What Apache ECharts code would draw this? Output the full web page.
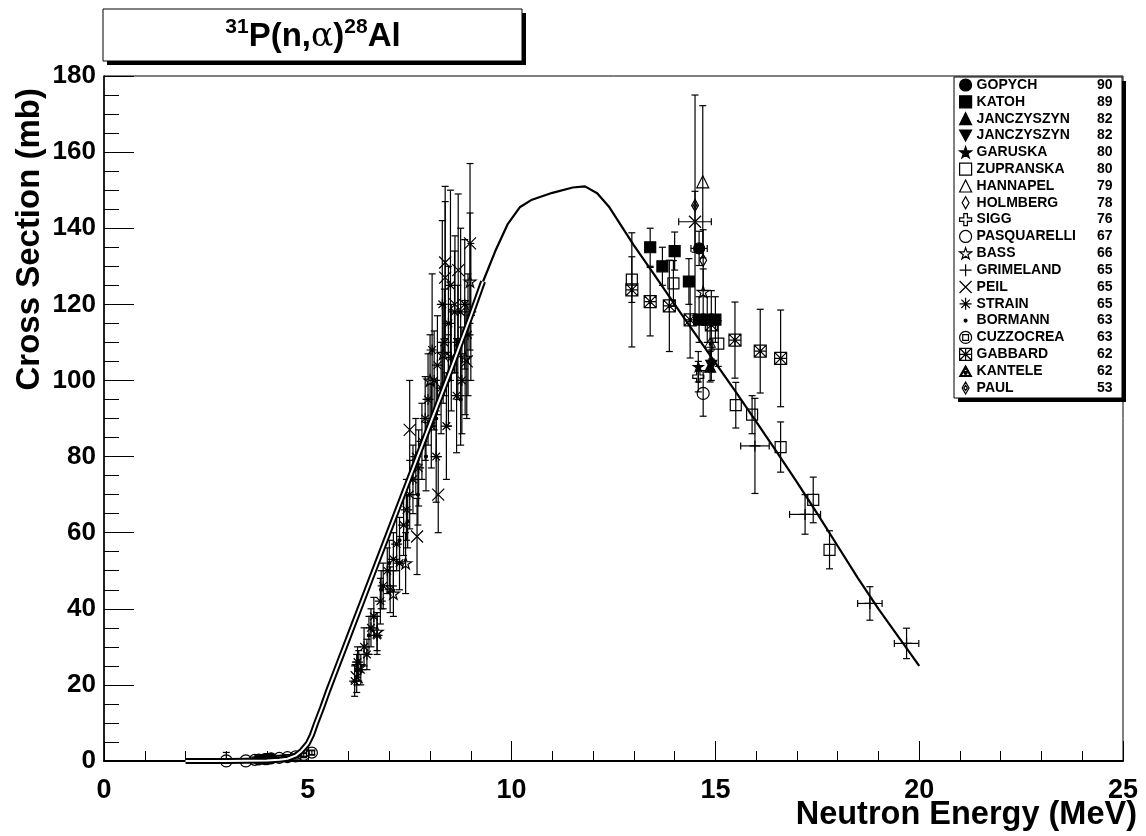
<!DOCTYPE html>
<html><head><meta charset="utf-8">
<script src="https://cdn.jsdelivr.net/npm/echarts@6/dist/echarts.min.js"></script>
<style>html,body{margin:0;padding:0;background:#fff}#c{width:1146px;height:836px}</style>
</head><body><div id="c"></div>
<script>
// ---- data: each point = [energy (MeV), cross section (mb), dSigma, dE] ----
const GOPYCH = [[3.8,0.4,0.3,0],[3.95,0.5,0.3,0],[4.1,0.7,0.3,0],[14.6,134.7,4.5,0.2]];
const KATOH = [[13.4,135,5,0],[13.7,130,5,0],[14.0,134,5,0],[14.35,126,6,0],[14.6,116,6,0],[14.8,116,6,0],[15.0,116,6,0]];
const JANCZYSZYN_UP = [[14.87,103.6,4,0]];
const JANCZYSZYN_DN = [[14.9,104,4,0]];
const GARUSKA = [[14.58,103.6,4,0]];
const ZUPRANSKA = [[12.95,126.5,6,0],[13.97,125.5,6,0],[15.07,109.7,6,0],[15.5,93.5,6,0],[15.9,91,5,0],[16.6,82.5,6.6,0],[17.4,68.6,6,0],[17.8,55.5,5,0]];
const HANNAPEL = [[14.69,152.2,20,0]];
const HOLMBERG = [[14.7,131.6,8,0]];
const SIGG = [[14.58,101,4,0]];
const PASQUARELLI = [[3.0,0.05,2.2,0],[3.48,0.05,0.5,0],[14.7,96.6,6,0]];
const BASS = [[6.25,25,4,0],[6.7,34,5,0],[7.1,44,6,0],[7.4,52,8,0],[8.0,100,12,0],[8.32,107,13,0],[8.86,106,15,0],[8.98,126,18,0],[14.7,123.3,6,0]];
const GRIMELAND = [[15.97,82.8,12.5,0.35],[17.2,64.8,5.2,0.38],[18.79,41.4,4.4,0.3],[19.69,30.9,4,0.3]];
const PEIL = [[6.2,22,4,0],[7.5,87,13,0],[7.68,59,10,0],[8.2,70,10,0],[8.37,131,20,0],[8.37,127,20,0],[8.61,120,18,0],[8.69,129,20,0],[8.9,105,15,0],[8.98,136,21,0],[14.5,141.7,8,0.4]];
const STRAIN = [[6.15,21,4,0],[6.22,26,4,0],[6.3,24,4,0],[6.38,30,5,0],[6.45,28,4,0],[6.55,35,5,0],[6.62,38,5,0],[6.7,33,5,0],[6.78,42,6,0],[6.85,46,6,0],[6.95,50,6,0],[7.02,45,6,0],[7.1,53,7,0],[7.18,57,7,0],[7.25,52,7,0],[7.35,62,8,0],[7.42,66,8,0],[7.5,70,9,0],[7.58,74,9,0],[7.65,80,10,0],[7.72,77,10,0],[7.8,84,10,0],[7.88,90,11,0],[7.95,95,12,0],[8.03,88,11,0],[8.05,108,20,0],[8.1,100,13,0],[8.15,80,12,0],[8.18,104,13,0],[8.27,98,12,0],[8.3,120,22,0],[8.35,110,14,0],[8.4,88,14,0],[8.45,115,15,0],[8.5,125,25,0],[8.52,106,14,0],[8.6,118,16,0],[8.65,96,15,0],[8.68,110,15,0],[8.75,118,22,0],[8.78,100,14,0],[8.85,120,17,0],[8.93,112,16,0],[9.0,118,18,0]];
const BORMANN = [[4.4,1.2,0.3,0],[4.6,1.4,0.3,0],[4.8,1.6,0.3,0],[6.2,24,4,0],[6.5,33,5,0],[6.8,45,5,0],[7.0,52,6,0],[7.25,58,6,0],[7.45,63,7,0],[7.7,70,8,0],[7.9,80,9,0],[8.15,90,10,0],[8.45,100,12,0],[8.75,95,12,0]];
const CUZZOCREA = [[3.7,0.3,0.3,0],[4.0,0.5,0.3,0],[4.3,0.8,0.3,0],[4.5,1.0,0.3,0],[4.7,1.2,0.3,0],[4.9,1.6,0.4,0],[5.1,2.2,0.5,0]];
const GABBARD = [[12.95,123.8,15,0],[13.4,120.7,9,0],[13.87,119.6,12,0],[14.38,115.9,10,0],[14.9,114.6,9,0],[15.48,110.6,10,0],[16.1,107.7,11,0],[16.6,105.8,12.7,0]];
const KANTELE = [[14.87,110,5,0]];
const PAUL = [[14.5,146,29,0]];

// evaluation curve [E, sigma]
const EVAL_CURVE = [[0,0],[2,0],[3,0],[4,0.1],[4.3,0.3],[4.5,0.6],[4.7,1.4],[4.85,2.7],[5.0,4.6],[5.1,6.8],[5.2,9.8],[5.35,14],[5.5,18.5],[5.75,25.5],[6.0,32.5],[6.5,46.5],[7.0,60.5],[7.5,74.5],[8.0,88.5],[8.5,102.5],[9.0,117],[9.3,126],[9.6,134],[9.9,141],[10.2,145.5],[10.5,147.5],[11.0,149.3],[11.5,150.7],[11.8,151],[12.1,149.2],[12.4,145.5],[12.7,140.5],[13.0,135.5],[13.5,127.8],[14.0,120],[14.5,112.3],[15.0,104.6],[15.5,97],[16.0,89.2],[16.5,81.3],[17.0,73.3],[17.5,65],[18.0,56.5],[18.5,48],[19.0,40],[19.5,32.5],[20.0,25]];

// legend entries
const LEGEND_KEYS = ['GOPYCH','KATOH','JANCZYSZYN_UP','JANCZYSZYN_DN','GARUSKA','ZUPRANSKA','HANNAPEL','HOLMBERG','SIGG','PASQUARELLI','BASS','GRIMELAND','PEIL','STRAIN','BORMANN','CUZZOCREA','GABBARD','KANTELE','PAUL'];
const LEGEND_LABELS = ['GOPYCH','KATOH','JANCZYSZYN','JANCZYSZYN','GARUSKA','ZUPRANSKA','HANNAPEL','HOLMBERG','SIGG','PASQUARELLI','BASS','GRIMELAND','PEIL','STRAIN','BORMANN','CUZZOCREA','GABBARD','KANTELE','PAUL'];
const LEGEND_YEARS = ['90','89','82','82','80','80','79','78','76','67','66','65','65','65','63','63','62','62','53'];

const DATA = {GOPYCH,KATOH,JANCZYSZYN_UP,JANCZYSZYN_DN,GARUSKA,ZUPRANSKA,HANNAPEL,HOLMBERG,SIGG,PASQUARELLI,BASS,GRIMELAND,PEIL,STRAIN,BORMANN,CUZZOCREA,GABBARD,KANTELE,PAUL};

const FONT = '"Liberation Sans", Arial, Helvetica, sans-serif';
const STAR = 'M50,0L61.2,34.5L97.6,34.5L68.2,55.9L79.4,90.5L50,69.1L20.6,90.5L31.8,55.9L2.4,34.5L38.8,34.5Z';
const T = 'transparent';
const MARK = {
  GOPYCH: {symbol:'circle', size:11, fill:'#000'},
  KATOH: {symbol:'rect', size:11, fill:'#000'},
  JANCZYSZYN_UP: {symbol:'triangle', size:11, fill:'#000'},
  JANCZYSZYN_DN: {symbol:'path://M0,0H10L5,9Z', size:11, fill:'#000'},
  GARUSKA: {symbol:'path://'+STAR, size:10, fill:'#000'},
  ZUPRANSKA: {symbol:'rect', size:11, fill:T},
  HANNAPEL: {symbol:'triangle', size:12, fill:T},
  HOLMBERG: {symbol:'path://M4,0L8,7L4,14L0,7Z', size:12, fill:T},
  SIGG: {symbol:'path://M3.5,0H6.5V3.5H10V6.5H6.5V10H3.5V6.5H0V3.5H3.5Z', size:11, fill:T},
  PASQUARELLI: {symbol:'circle', size:12, fill:T},
  BASS: {symbol:'path://'+STAR, size:12, fill:T},
  GRIMELAND: {symbol:'path://M5,0V10M0,5H10', size:11, fill:T},
  PEIL: {symbol:'path://M0,0L10,10M10,0L0,10', size:12, fill:T},
  STRAIN: {symbol:'path://M5,0V10M0,5H10M1.5,1.5L8.5,8.5M8.5,1.5L1.5,8.5', size:11, fill:T},
  BORMANN: {symbol:'circle', size:3, fill:'#000', legendIcon:'path://M0,0M10,10M6.2,5A1.2,1.2,0,1,1,3.8,5A1.2,1.2,0,1,1,6.2,5Z'},
  CUZZOCREA: {symbol:'path://M10,5A5,5,0,1,1,0,5A5,5,0,1,1,10,5ZM2.6,2.6H7.4V7.4H2.6Z', size:11, fill:T},
  GABBARD: {symbol:'path://M0,0H10V10H0ZM0,0L10,10M10,0L0,10M5,0V10M0,5H10', size:12, fill:T},
  KANTELE: {symbol:'path://M50,0L100,90L0,90ZM50,18L13,82L87,82ZM62,60A12,12,0,1,1,38,60A12,12,0,1,1,62,60Z', size:12, fill:'#000', bw:0},
  PAUL: {symbol:'path://M4,0L8,7L4,14L0,7ZM4,4L6,7L4,10L2,7Z', size:12, fill:T}
};

function errorBars(data) {
  return {
    type:'custom', silent:true, z:2, clip:true, data:data,
    encode:{x:0, y:1},
    renderItem:function(params, api){
      const x=api.value(0), y=api.value(1), ey=api.value(2), ex=api.value(3);
      const c=api.coord([x,y]);
      const st={stroke:'#000', lineWidth:1.2};
      const ch=[];
      if (ey>0) {
        const t=api.coord([x,y+ey]), b=api.coord([x,y-ey]);
        ch.push({type:'line', shape:{x1:c[0],y1:t[1],x2:c[0],y2:b[1]}, style:st});
        ch.push({type:'line', shape:{x1:c[0]-3.5,y1:t[1],x2:c[0]+3.5,y2:t[1]}, style:st});
        ch.push({type:'line', shape:{x1:c[0]-3.5,y1:b[1],x2:c[0]+3.5,y2:b[1]}, style:st});
      }
      if (ex>0) {
        const l=api.coord([x-ex,y]), r=api.coord([x+ex,y]);
        ch.push({type:'line', shape:{x1:l[0],y1:c[1],x2:r[0],y2:c[1]}, style:st});
        ch.push({type:'line', shape:{x1:l[0],y1:c[1]-3.5,x2:l[0],y2:c[1]+3.5}, style:st});
        ch.push({type:'line', shape:{x1:r[0],y1:c[1]-3.5,x2:r[0],y2:c[1]+3.5}, style:st});
      }
      return {type:'group', children:ch};
    }
  };
}

const series = [];
LEGEND_KEYS.forEach(function(k){ series.push(errorBars(DATA[k])); });
LEGEND_KEYS.forEach(function(k){
  const m = MARK[k];
  series.push({
    type:'scatter', name:k, z:3,
    data: DATA[k].map(function(d){return [d[0], d[1]];}),
    symbol:m.symbol, symbolSize:m.size, symbolKeepAspect:true,
    itemStyle:{color:m.fill, borderColor:'#000', borderWidth:(m.bw===undefined?1.2:m.bw), opacity:1},
    emphasis:{disabled:true}
  });
});
const lowPart = EVAL_CURVE.filter(function(p){return p[0] >= 2 && p[0] <= 9.3;});
const highPart = EVAL_CURVE.filter(function(p){return p[0] >= 9.0;});
series.push({type:'line', data:lowPart, symbol:'none', z:5, lineStyle:{color:'#000', width:6}, silent:true});
series.push({type:'line', data:lowPart, symbol:'none', z:6, lineStyle:{color:'#fff', width:2}, silent:true});
series.push({type:'line', data:highPart, symbol:'none', z:5, lineStyle:{color:'#000', width:2.2}, silent:true});

const legendData = LEGEND_KEYS.map(function(k){
  const o = {name:k};
  if (MARK[k].legendIcon) o.icon = MARK[k].legendIcon;
  return o;
});

const chart = echarts.init(document.getElementById('c'), null, {renderer:'canvas'});
chart.setOption({
  animation:false,
  backgroundColor:'#fff',
  grid:{left:104, right:23, top:76, bottom:75, show:true, borderColor:'#000', borderWidth:1, containLabel:false},
  xAxis:{type:'value', min:0, max:25, interval:5,
    axisLine:{onZero:false, lineStyle:{color:'#000', width:2}},
    axisTick:{inside:true, length:20, lineStyle:{color:'#000', width:1}},
    minorTick:{show:true, splitNumber:5, length:10, lineStyle:{color:'#000', width:1}},
    splitLine:{show:false},
    axisLabel:{color:'#000', fontSize:27, fontWeight:'bold', fontFamily:FONT, margin:16}
  },
  yAxis:{type:'value', min:0, max:180, interval:20,
    axisLine:{show:true, onZero:false, lineStyle:{color:'#000', width:1.5}},
    axisTick:{show:true, inside:true, length:30, lineStyle:{color:'#000', width:1}},
    minorTick:{show:true, splitNumber:4, length:15, lineStyle:{color:'#000', width:1}},
    splitLine:{show:false},
    axisLabel:{color:'#000', fontSize:26, fontWeight:'bold', fontFamily:FONT, margin:8, padding:[6,0,0,0]}
  },
  legend:{
    show:true, orient:'vertical', left:959, top:78, padding:0, itemWidth:12, itemHeight:12, itemGap:2.83,
    selectedMode:false, z:10, data:legendData,
    itemStyle:{borderColor:'#000', borderWidth:1.2},
    formatter:function(name){
      const i = LEGEND_KEYS.indexOf(name);
      return '{n|' + LEGEND_LABELS[i] + '}{y|' + LEGEND_YEARS[i] + '}';
    },
    textStyle:{color:'#000', fontFamily:FONT, fontWeight:'bold', fontSize:14, lineHeight:14,
      rich:{n:{width:116, fontSize:14, lineHeight:14, fontWeight:'bold', fontFamily:FONT, color:'#000'},
            y:{width:20, align:'right', fontSize:14, lineHeight:14, fontWeight:'bold', fontFamily:FONT, color:'#000'}}}
  },
  graphic:[
    {type:'rect', z:8, shape:{x:107, y:13, width:419, height:52}, style:{fill:'#000'}},
    {type:'rect', z:9, shape:{x:103, y:9, width:419, height:52}, style:{fill:'#fff', stroke:'#000', lineWidth:1}},
    {type:'text', z:10, x:313, y:37, style:{
      text:'{s|31}{b|P(n,}{g|α}{b|)}{s|28}{b|Al}', align:'center', verticalAlign:'middle',
      rich:{
        b:{fontSize:33, fontWeight:'bold', fontFamily:FONT, fill:'#000', lineHeight:40},
        g:{fontSize:33, fontFamily:'"DejaVu Serif", serif', fill:'#000', lineHeight:40},
        s:{fontSize:21, fontWeight:'bold', fontFamily:FONT, fill:'#000', verticalAlign:'top', lineHeight:24}
      }}},
    {type:'rect', z:8, shape:{x:958, y:81, width:168, height:321}, style:{fill:'#000'}},
    {type:'rect', z:9, shape:{x:954, y:77, width:168, height:321}, style:{fill:'#fff', stroke:'#000', lineWidth:1}},
    {type:'text', z:10, x:1137, y:815, style:{text:'Neutron Energy (MeV)', font:'bold 32.5px ' + FONT, fill:'#000', align:'right', verticalAlign:'middle'}},
    {type:'text', z:10, x:30, y:88, rotation:Math.PI/2, style:{text:'Cross Section (mb)', font:'bold 33px ' + FONT, fill:'#000', align:'right', verticalAlign:'middle'}}
  ],
  series:series
});
</script></body></html>
